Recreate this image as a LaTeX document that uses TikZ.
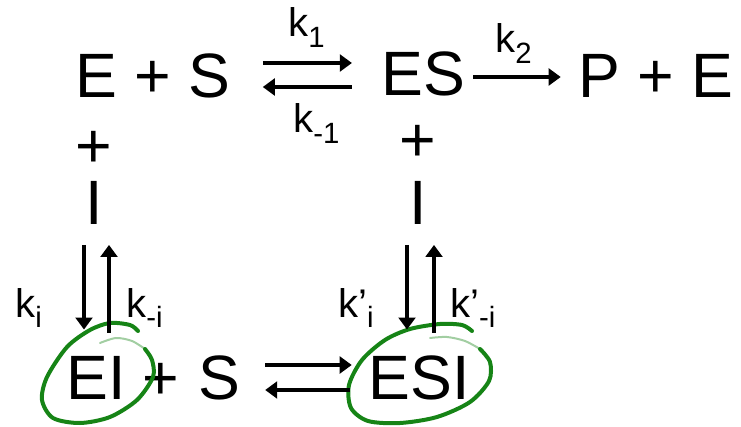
\documentclass[tikz,border=0pt]{standalone}
\usepackage{fontspec}
\setmainfont{Liberation Sans}
\usetikzlibrary{%
	arrows.meta,%
	positioning,%
}
\definecolor{cgreenring}{RGB}{22, 132, 22}
\tikzset{
	>={Triangle[length=9pt,width=12.5pt]},%
	species/.style={%
			inner sep=0pt,%
			text height=34pt,%
			text depth=0pt,%
			font={\fontsize{47}{50}\selectfont}},%
	ratelabel/.style={%
			inner sep=0pt,%
			anchor=base west,%
			font={\fontsize{30}{32}\selectfont}},%
	reaction/.style={->, line width=3.6pt},%
	ring/.style={%
			draw=cgreenring,%
			line width=3pt,%
			line cap=round,%
			line join=round},%
	ringtail/.style={%
			draw=cgreenring,%
			line width=1.5pt,%
			opacity=0.4,%
			line cap=round},%
}
\newcommand{\ratesub}[1]{\raisebox{-8pt}{\fontsize{22}{24}\selectfont #1}}

\begin{document}
\begin{tikzpicture}[x=0.75pt, y=-0.75pt]%
	\useasboundingbox (0,0) rectangle (741,427);

	\node[species] (enzsub) at (153,74.5) {E + S};
	\node[species] (es) at (423,73) {ES};
	\node[species] (prod) at (656,75) {P + E};

	\node[species] (plusei) at (94,145) {+};
	\node[species] (plusesi) at (418,139) {+};
	\node[species] (inhei) at (94,202) {I};
	\node[species] (inhesi) at (418,202) {I};

	\node[species] (ei) at (96,376.5) {EI};
	\node[species] (plusbot) at (161,376.5) {+};
	\node[species] (subbot) at (219,376.5) {S};
	\node[species] (esi) at (419,376.5) {ESI};

	% rate constants
	\node[ratelabel] (kone) at (288,37) {k\ratesub{1}};
	\node[ratelabel] (kmone) at (293,133) {k\ratesub{-1}};
	\node[ratelabel] (ktwo) at (495,53) {k\ratesub{2}};
	\node[ratelabel] (ki) at (15,317) {k\ratesub{i}};
	\node[ratelabel] (kmi) at (126,317) {k\ratesub{-i}};
	\node[ratelabel] (kpi) at (338,317) {k’\ratesub{i}};
	\node[ratelabel] (kpmi) at (450,317) {k’\ratesub{-i}};

	% green rings
	\draw[ring] plot[smooth] coordinates {(138,331) (130,325) (110,323) (90,330) (67,347) (47,377) (42,400) (53,418) (80,423) (110,417) (137,400) (153,377) (152,360) (145,349)};
	\draw[ringtail] plot[smooth] coordinates {(145,349) (132,341) (116,338) (100,343)};
	\draw[ring] plot[smooth] coordinates {(472,331) (462,325) (440,324) (410,329) (385,340) (362,360) (349,385) (351,408) (368,421) (400,423) (437,417) (470,402) (489,381) (490,362) (480,349)};
	\draw[ringtail] plot[smooth] coordinates {(480,349) (465,341) (447,337) (430,338)};

	\draw[reaction] ([shift={(32,-11.5)}]enzsub.east) to ([shift={(-29,-10)}]es.west);
	\draw[reaction] ([shift={(-29,14)}]es.west) to ([shift={(32,12.5)}]enzsub.east);
	\draw[reaction] ([shift={(8,4)}]es.east) to ([shift={(-17.5,2)}]prod.west);

	\draw[reaction] ([shift={(-10,20)}]inhei.south) to ([shift={(-12,-24)}]ei.north);
	\draw[reaction] ([shift={(13,-21)}]ei.north) to ([shift={(15,20)}]inhei.south);
	\draw[reaction] ([shift={(-11,20)}]inhesi.south) to ([shift={(-12,-24)}]esi.north);
	\draw[reaction] ([shift={(15,-21)}]esi.north) to ([shift={(16,20)}]inhesi.south);

	\draw[reaction] ([shift={(25,-11.5)}]subbot.east) to ([shift={(-16.5,-11.5)}]esi.west);
	\draw[reaction] ([shift={(-18.5,13.5)}]esi.west) to ([shift={(25,13.5)}]subbot.east);
\end{tikzpicture}
\end{document}
